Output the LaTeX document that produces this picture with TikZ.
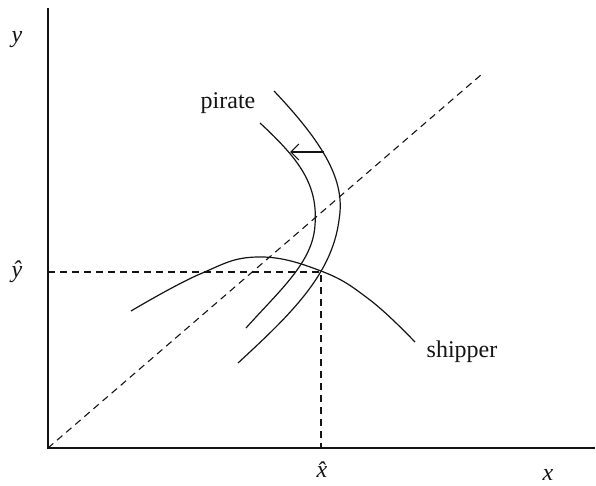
\documentclass[tikz,border=0pt]{standalone}
\usepackage{fontspec}
\setmainfont{Liberation Serif}
\usepackage{tikz}
\usetikzlibrary{positioning, calc, arrows.meta}
\definecolor{ink}{RGB}{20,20,20}
\tikzset{
  axis/.style={draw=ink,line width=1.2pt},
  guide/.style={draw=ink,line width=1.1pt,dash pattern=on 7pt off 5pt},
  curve/.style={draw=ink,line width=1.2pt},
  arr/.style={-{Straight Barb[length=8pt,width=16pt]},draw=ink,line width=1.1pt},
  lbl/.style={font=\fontsize{24}{28}\selectfont,text=ink,inner sep=0pt},
}

\begin{document}
\begin{tikzpicture}[x=1pt,y=-1pt]
  \useasboundingbox (0,0) rectangle (596,485);
  % axes
  \coordinate (origin) at (48,448);
  \coordinate (ytop) at (48,8);
  \coordinate (xend) at (595,448);
  \draw[axis] (ytop) -- (origin) -- (xend);
  % 45 degree line
  \coordinate (diagend) at (482,74);
  \draw[guide] (origin) -- (diagend);
  % equilibrium
  \coordinate (eq) at (321,272);
  \coordinate (eqy) at (48,272);
  \coordinate (eqx) at (321,448);
  \draw[guide] (eqy) -- (eq) -- (eqx);
  % shipper
  \draw[curve] plot[smooth,tension=0.7] coordinates
    {(131,311) (200,274) (257,257) (321,271) (370,300) (415,342)};
  % pirate, before and after
  \draw[curve] (260,123) .. controls (300,160) and (318,185) .. (315,225)
    .. controls (313,262) and (280,290) .. (246,328);
  \draw[curve] (274,91) .. controls (330,150) and (345,185) .. (339,220)
    .. controls (332,275) and (290,315) .. (238,363);
  \coordinate (shiftA) at (324,152);
  \coordinate (shiftB) at (290,152);
  \draw[arr] (shiftA) -- (shiftB);
  % labels
  \node[lbl] (ylab) at (17,40) {\itshape y};
  \node[lbl] (yhat) at (17,272) {\itshape \^{y}};
  \node[lbl] (xhat) at (322,470) {\itshape \^{x}};
  \node[lbl] (xlab) at (548,475) {\itshape x};
  \node[lbl] (pirate) at (228,103) {pirate};
  \node[lbl] (shipper) at (462,352) {shipper};
\end{tikzpicture}
\end{document}
